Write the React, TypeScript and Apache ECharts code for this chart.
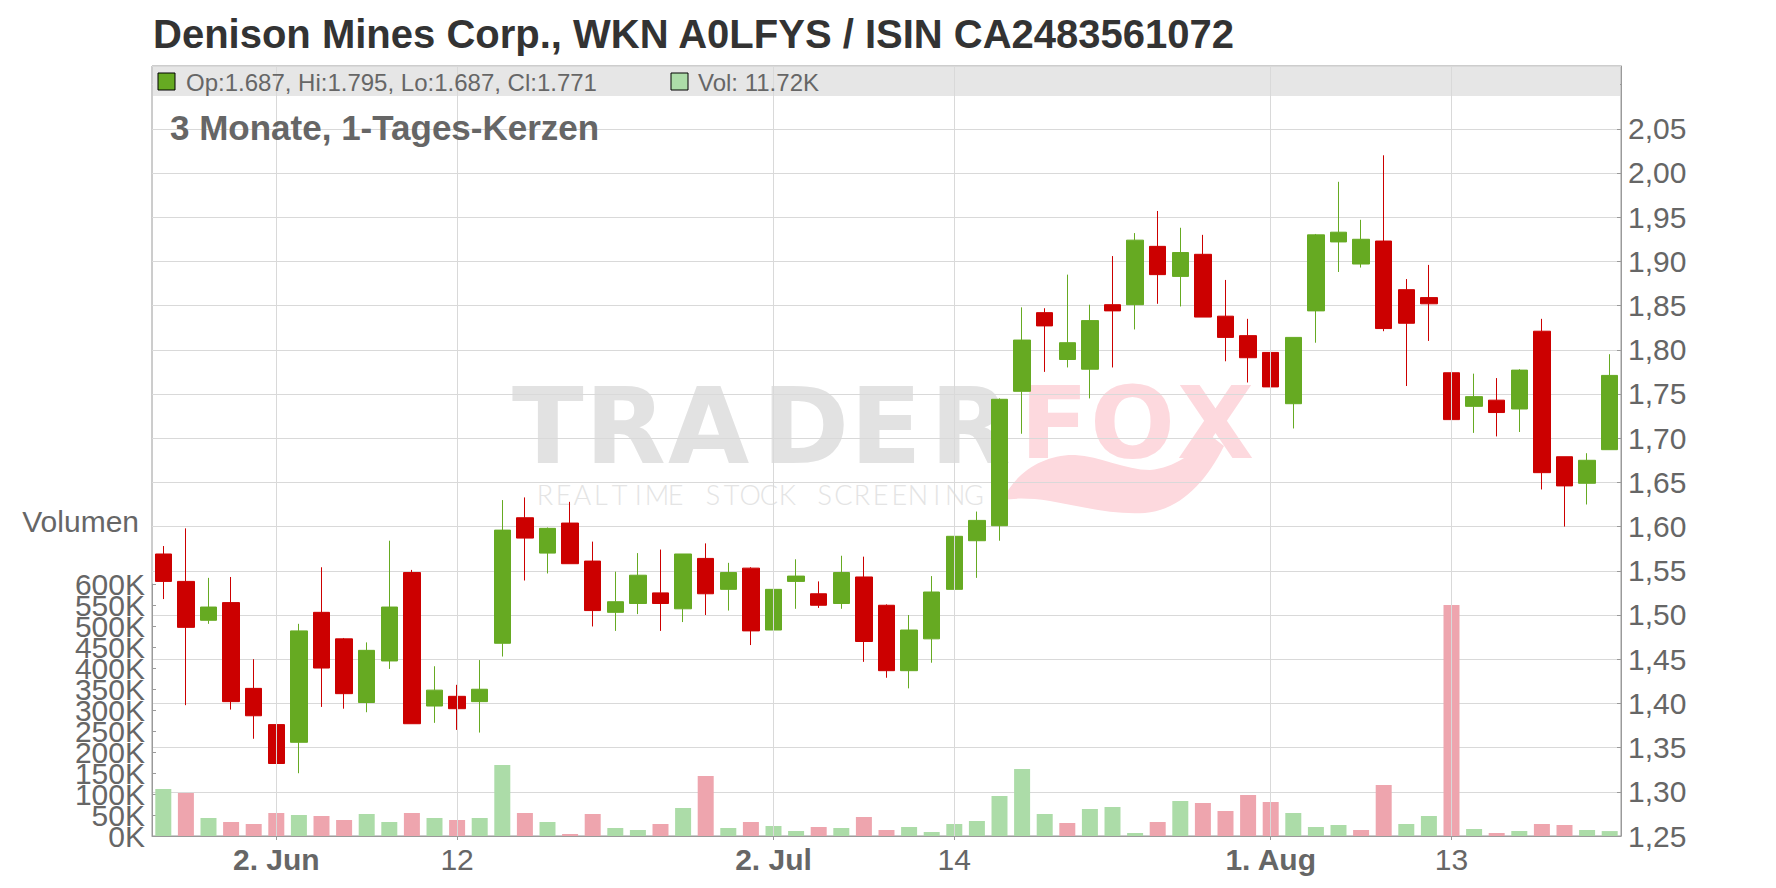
import React, { useEffect, useRef } from 'react';
import * as echarts from 'echarts';

const titleText = 'Denison Mines Corp., WKN A0LFYS / ISIN CA2483561072';
const subtitleText = '3 Monate, 1-Tages-Kerzen';
const volumeAxisName = 'Volumen';

const dates = [
  '2025-05-26', '2025-05-27', '2025-05-28', '2025-05-29', '2025-05-30',
  '2025-06-02', '2025-06-03', '2025-06-04', '2025-06-05', '2025-06-06',
  '2025-06-09', '2025-06-10', '2025-06-11', '2025-06-12', '2025-06-13',
  '2025-06-16', '2025-06-17', '2025-06-18', '2025-06-19', '2025-06-20',
  '2025-06-23', '2025-06-24', '2025-06-25', '2025-06-26', '2025-06-27',
  '2025-06-30', '2025-07-01', '2025-07-02', '2025-07-03', '2025-07-04',
  '2025-07-07', '2025-07-08', '2025-07-09', '2025-07-10', '2025-07-11',
  '2025-07-14', '2025-07-15', '2025-07-16', '2025-07-17', '2025-07-18',
  '2025-07-21', '2025-07-22', '2025-07-23', '2025-07-24', '2025-07-25',
  '2025-07-28', '2025-07-29', '2025-07-30', '2025-07-31', '2025-08-01',
  '2025-08-04', '2025-08-05', '2025-08-06', '2025-08-07', '2025-08-08',
  '2025-08-11', '2025-08-12', '2025-08-13', '2025-08-14', '2025-08-15',
  '2025-08-18', '2025-08-19', '2025-08-20', '2025-08-21', '2025-08-22',
];

const opens = [
  1.569, 1.538, 1.494, 1.514, 1.417, 1.376, 1.356, 1.503, 1.473, 1.401,
  1.448, 1.548, 1.397, 1.408, 1.402, 1.468, 1.610, 1.570, 1.604, 1.561,
  1.503, 1.513, 1.525, 1.507, 1.564, 1.529, 1.553, 1.483, 1.538, 1.524,
  1.513, 1.543, 1.511, 1.437, 1.473, 1.529, 1.584, 1.601, 1.753, 1.842,
  1.789, 1.778, 1.851, 1.851, 1.917, 1.883, 1.908, 1.838, 1.816, 1.797,
  1.739, 1.844, 1.922, 1.897, 1.923, 1.868, 1.859, 1.774, 1.736, 1.743,
  1.733, 1.821, 1.679, 1.649, 1.687,
];
const closes = [
  1.538, 1.486, 1.509, 1.402, 1.386, 1.332, 1.482, 1.440, 1.411, 1.460,
  1.509, 1.377, 1.415, 1.394, 1.416, 1.596, 1.587, 1.598, 1.558, 1.505,
  1.515, 1.545, 1.513, 1.569, 1.524, 1.548, 1.482, 1.529, 1.544, 1.511,
  1.548, 1.470, 1.437, 1.483, 1.526, 1.589, 1.607, 1.744, 1.811, 1.827,
  1.808, 1.833, 1.844, 1.924, 1.885, 1.910, 1.837, 1.814, 1.791, 1.758,
  1.814, 1.930, 1.933, 1.925, 1.824, 1.830, 1.852, 1.721, 1.747, 1.729,
  1.777, 1.661, 1.646, 1.675, 1.771,
];
const lows = [
  1.518, 1.398, 1.490, 1.393, 1.360, 1.323, 1.321, 1.396, 1.394, 1.390,
  1.439, 1.377, 1.378, 1.370, 1.367, 1.453, 1.539, 1.547, 1.558, 1.487,
  1.482, 1.501, 1.482, 1.492, 1.500, 1.505, 1.466, 1.470, 1.507, 1.508,
  1.507, 1.447, 1.429, 1.417, 1.446, 1.499, 1.542, 1.584, 1.705, 1.775,
  1.780, 1.745, 1.780, 1.823, 1.852, 1.849, 1.837, 1.787, 1.763, 1.687,
  1.711, 1.808, 1.888, 1.893, 1.821, 1.759, 1.810, 1.666, 1.706, 1.702,
  1.707, 1.642, 1.600, 1.625, 1.687,
];
const highs = [
  1.578, 1.598, 1.542, 1.543, 1.450, 1.456, 1.490, 1.554, 1.474, 1.469,
  1.584, 1.551, 1.442, 1.421, 1.449, 1.630, 1.633, 1.599, 1.628, 1.583,
  1.549, 1.570, 1.574, 1.569, 1.581, 1.559, 1.554, 1.571, 1.563, 1.538,
  1.567, 1.566, 1.512, 1.500, 1.544, 1.590, 1.617, 1.745, 1.848, 1.847,
  1.885, 1.851, 1.906, 1.932, 1.957, 1.938, 1.930, 1.879, 1.835, 1.812,
  1.814, 1.931, 1.990, 1.947, 2.020, 1.880, 1.896, 1.790, 1.773, 1.768,
  1.778, 1.835, 1.679, 1.683, 1.795,
];

// volume in thousands
const volumeK = [
  111.9, 102.4, 42.9, 33.3, 28.6, 54.8, 50.0, 47.6, 38.1, 52.4,
  33.3, 54.8, 42.9, 38.1, 42.9, 169.0, 54.8, 33.3, 4.8, 52.4,
  19.0, 14.3, 28.6, 66.7, 142.9, 19.0, 33.3, 23.8, 11.9, 21.4,
  19.0, 45.2, 14.3, 21.4, 9.5, 28.6, 35.7, 95.2, 159.5, 52.4,
  31.0, 64.3, 69.0, 7.1, 33.3, 83.3, 78.6, 59.5, 97.6, 81.0,
  54.8, 21.4, 26.2, 14.3, 121.4, 28.6, 47.6, 550.0, 16.7, 7.1,
  11.9, 28.6, 26.2, 14.3, 11.72,
];
// 1 = volume bar drawn green (up), 0 = drawn red (down)
const volumeUp = [
  1, 0, 1, 0, 0, 0, 1, 0, 0, 1,
  1, 0, 1, 0, 1, 1, 0, 1, 0, 0,
  1, 1, 0, 1, 0, 1, 0, 1, 1, 0,
  1, 0, 0, 1, 1, 1, 1, 1, 1, 1,
  0, 1, 1, 1, 0, 1, 0, 0, 0, 0,
  1, 1, 1, 0, 0, 1, 1, 0, 1, 0,
  1, 0, 0, 1, 1,
];

const tickDates = ['2025-06-02', '2025-06-12', '2025-07-02', '2025-07-14', '2025-08-01', '2025-08-13'];
const tickLabels = ['2. Jun', '12', '2. Jul', '14', '1. Aug', '13'];
const tickBold = [true, false, true, false, true, false];

const priceMin = 1.25;
const priceMax = 2.121;
const priceStep = 0.05;
const priceLabelMax = 2.05;
const volMax = 600000;
const volStep = 50000;

const GREEN = '#66aa22';
const RED = '#cc0000';
const VOL_GREEN = '#acdca8';
const VOL_RED = '#eea5ae';
const FONT = '"Liberation Sans", Arial, sans-serif';

const watermarkTrader = ['T', 'R', 'A', 'D', 'E', 'R'];
const watermarkTraderX = [512, 585, 668, 762, 850, 930];
const watermarkFox = ['F', 'O', 'X'];
const watermarkFoxX = [1020, 1090, 1177];
const watermarkSub = 'REALTIME STOCK SCREENING';

const foxTailPath =
  'M1003,500 C1015,472 1045,454 1075,455 C1100,456 1125,470 1150,470 C1175,468 1195,452 1210,435 L1224,446 C1206,482 1180,510 1145,513 C1110,515 1080,506 1050,501 C1030,498 1015,498 1003,500 Z';

// geometry of the volume pane (pixels)
const PLOT_LEFT = 152;
const PLOT_WIDTH = 1469;
const PLOT_TOP = 66;
const PLOT_BOTTOM = 836;
const VOL_PANE_HEIGHT = 252;

export default function App() {
  const ref = useRef<HTMLDivElement>(null);

  useEffect(() => {
    if (!ref.current) return;
    try {
      echarts.graphic.registerShape('foxtail', echarts.graphic.extendPath(foxTailPath, {}));
    } catch (e) {
      /* already registered */
    }
    const chart = echarts.init(ref.current, undefined, { renderer: 'svg' });

    const last = dates.length - 1;
    const legendText = `Op:${opens[last].toFixed(3)}, Hi:${highs[last].toFixed(3)}, Lo:${lows[last].toFixed(3)}, Cl:${closes[last].toFixed(3)}`;
    const volText = `Vol: ${volumeK[last].toFixed(2)}K`;

    const tickSet = new Set(tickDates);
    const showTick = (index: number) => tickSet.has(dates[index]);

    const candleData = dates.map((_, i) => [opens[i], closes[i], lows[i], highs[i]]);
    const volumeData = dates.map((_, i) => ({
      value: volumeK[i] * 1000,
      itemStyle: { color: volumeUp[i] ? VOL_GREEN : VOL_RED },
    }));

    // odd-step volume labels live on a second axis whose range is shifted by one step
    const pxPerVol = VOL_PANE_HEIGHT / volMax;
    const oddTop = PLOT_BOTTOM - VOL_PANE_HEIGHT + volStep * pxPerVol;
    const oddHeight = (volMax - 2 * volStep) * pxPerVol;

    const subLetters: any[] = [];
    for (let k = 0; k < watermarkSub.length; k++) {
      const ch = watermarkSub[k];
      if (ch === ' ') continue;
      subLetters.push({
        type: 'text',
        x: 545 + k * 18.65,
        y: 494,
        z: -1,
        silent: true,
        style: {
          text: ch,
          fontSize: 27,
          fontFamily: 'Lato, "Open Sans", sans-serif',
          fontWeight: 300,
          fill: '#e4e4e4',
          align: 'center',
          verticalAlign: 'middle',
        },
      });
    }

    const volLabel = {
      fontSize: 30,
      color: '#666666',
      fontFamily: FONT,
      margin: 7,
      showMinLabel: true,
      showMaxLabel: true,
      formatter: (v: number) => `${Math.round(v / 1000)}K`,
    };

    const option: any = {
      animation: false,
      backgroundColor: '#ffffff',
      textStyle: { fontFamily: FONT },
      grid: [
        { left: PLOT_LEFT, top: PLOT_TOP, width: PLOT_WIDTH, height: PLOT_BOTTOM - PLOT_TOP, show: true, borderColor: '#9a9a9a', borderWidth: 1, backgroundColor: 'transparent' },
        { left: PLOT_LEFT, top: PLOT_BOTTOM - VOL_PANE_HEIGHT, width: PLOT_WIDTH, height: VOL_PANE_HEIGHT, show: false },
        { left: PLOT_LEFT, top: oddTop, width: PLOT_WIDTH, height: oddHeight, show: false },
      ],
      xAxis: [
        {
          type: 'category',
          gridIndex: 0,
          data: dates,
          boundaryGap: true,
          axisLine: { show: true, lineStyle: { color: '#9a9a9a' } },
          axisTick: { show: true, alignWithLabel: true, interval: (i: number) => showTick(i), length: 4, lineStyle: { color: '#9a9a9a' } },
          splitLine: { show: false },
          axisLabel: {
            interval: (i: number) => showTick(i),
            margin: 8,
            formatter: (v: string) => {
              const k = tickDates.indexOf(v);
              if (k < 0) return '';
              return tickBold[k] ? `{b|${tickLabels[k]}}` : `{n|${tickLabels[k]}}`;
            },
            rich: {
              b: { fontSize: 30, fontWeight: 'bold', color: '#666666', fontFamily: FONT },
              n: { fontSize: 30, fontWeight: 'normal', color: '#666666', fontFamily: FONT },
            },
          },
        },
        { type: 'category', gridIndex: 1, data: dates, boundaryGap: true, show: false },
        { type: 'category', gridIndex: 2, data: dates, boundaryGap: true, show: false },
      ],
      yAxis: [
        {
          type: 'value',
          gridIndex: 0,
          position: 'right',
          min: priceMin,
          max: priceMax,
          interval: priceStep,
          axisLine: { show: true, lineStyle: { color: '#9a9a9a' } },
          axisTick: { show: true, inside: true, length: 4, lineStyle: { color: '#9a9a9a' } },
          splitLine: { show: true, lineStyle: { color: '#d9d9d9', width: 1 } },
          axisLabel: {
            fontSize: 30,
            color: '#666666',
            fontFamily: FONT,
            margin: 7,
            showMinLabel: true,
            showMaxLabel: false,
            formatter: (v: number) => (v > priceLabelMax + 0.001 ? '' : v.toFixed(2).replace('.', ',')),
          },
        },
        {
          type: 'value',
          gridIndex: 1,
          position: 'left',
          min: 0,
          max: volMax,
          interval: 2 * volStep,
          axisLine: { show: true, lineStyle: { color: '#9a9a9a' } },
          axisTick: { show: true, inside: true, length: 4, lineStyle: { color: '#9a9a9a' } },
          splitLine: { show: false },
          axisLabel: volLabel,
        },
        {
          type: 'value',
          gridIndex: 2,
          position: 'left',
          min: volStep,
          max: volMax - volStep,
          interval: 2 * volStep,
          axisLine: { show: false },
          axisTick: { show: true, inside: true, length: 4, lineStyle: { color: '#9a9a9a' } },
          splitLine: { show: false },
          axisLabel: volLabel,
        },
      ],
      series: [
        {
          type: 'line',
          xAxisIndex: 0,
          yAxisIndex: 0,
          data: [],
          z: 1.5,
          silent: true,
          markLine: {
            silent: true,
            symbol: 'none',
            label: { show: false },
            lineStyle: { color: '#d9d9d9', width: 1, type: 'solid' },
            data: tickDates.map((d) => ({ xAxis: d })),
          },
        },
        {
          type: 'candlestick',
          xAxisIndex: 0,
          yAxisIndex: 0,
          barWidth: 17,
          z: 3,
          data: candleData,
          itemStyle: { color: GREEN, color0: RED, borderColor: GREEN, borderColor0: RED, borderWidth: 1 },
        },
        {
          type: 'bar',
          xAxisIndex: 1,
          yAxisIndex: 1,
          barWidth: 16,
          z: 3,
          data: volumeData,
        },
      ],
      graphic: [
        ...watermarkTrader.map((ch, i) => ({
          type: 'text',
          x: watermarkTraderX[i],
          y: 427,
          z: -1,
          silent: true,
          style: { text: ch, fontSize: 105, fontWeight: 'bold', fontFamily: '"DejaVu Sans", sans-serif', fill: '#e2e2e2', align: 'left', verticalAlign: 'middle' },
        })),
        ...watermarkFox.map((ch, i) => ({
          type: 'text',
          x: watermarkFoxX[i],
          y: 423,
          z: -1,
          silent: true,
          style: { text: ch, fontSize: 100, fontWeight: 'bold', fontFamily: '"DejaVu Sans", sans-serif', fill: '#fdd9de', align: 'left', verticalAlign: 'middle' },
        })),
        { type: 'foxtail', x: 0, y: 0, z: -1, silent: true, style: { fill: '#fdd9de' } },
        ...subLetters,
        { type: 'rect', z: 1, silent: true, shape: { x: 153, y: 67, width: 1467, height: 29 }, style: { fill: '#e6e6e6' } },
        { type: 'rect', z: 10, silent: true, shape: { x: 158, y: 73, width: 17, height: 17 }, style: { fill: GREEN, stroke: '#000', lineWidth: 1 } },
        { type: 'text', z: 10, silent: true, x: 186, y: 82, style: { text: legendText, fontSize: 24, fontFamily: FONT, fill: '#666666', align: 'left', verticalAlign: 'middle' } },
        { type: 'rect', z: 10, silent: true, shape: { x: 671, y: 73, width: 17, height: 17 }, style: { fill: VOL_GREEN, stroke: '#000', lineWidth: 1 } },
        { type: 'text', z: 10, silent: true, x: 698, y: 82, style: { text: volText, fontSize: 24, fontFamily: FONT, fill: '#666666', align: 'left', verticalAlign: 'middle' } },
        { type: 'text', z: 10, silent: true, x: 153, y: 34, style: { text: titleText, fontSize: 40, fontWeight: 'bold', fontFamily: FONT, fill: '#333333', align: 'left', verticalAlign: 'middle' } },
        { type: 'text', z: 10, silent: true, x: 170, y: 127, style: { text: subtitleText, fontSize: 35, fontWeight: 'bold', fontFamily: FONT, fill: '#666666', align: 'left', verticalAlign: 'middle' } },
        { type: 'text', z: 10, silent: true, x: 139, y: 521, style: { text: volumeAxisName, fontSize: 30, fontFamily: FONT, fill: '#666666', align: 'right', verticalAlign: 'middle' } },
      ],
    };

    chart.setOption(option);
    return () => {
      chart.dispose();
    };
  }, []);

  return (
    <div
      ref={ref}
      style={{ position: 'fixed', left: 0, top: 0, width: '1776px', height: '888px', background: '#fff' }}
    />
  );
}
